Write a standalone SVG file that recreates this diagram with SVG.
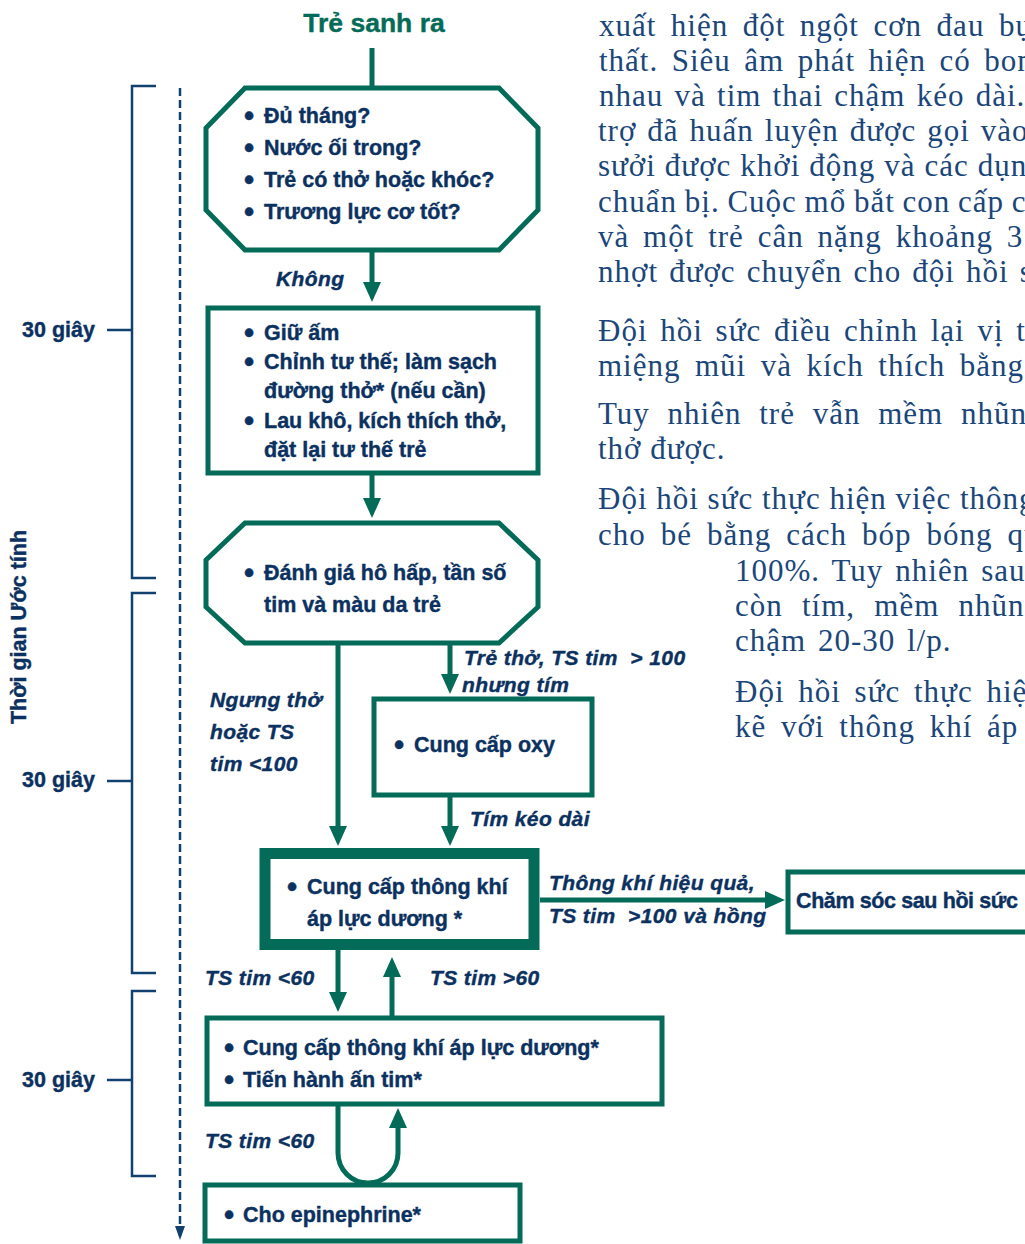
<svg xmlns="http://www.w3.org/2000/svg" width="1025" height="1244" viewBox="0 0 1025 1244">
<style>
.box{fill:#fff;stroke:#036b58;stroke-width:5}
.thick{fill:#fff;stroke:#036b58;stroke-width:11}
.con{fill:none;stroke:#036b58;stroke-width:5}
.br{fill:none;stroke:#12406f;stroke-width:2.5}
.t{font-family:"Liberation Sans",Arial,sans-serif;font-weight:bold;font-size:21.5px;fill:#0b3160;stroke:#0b3160;stroke-width:0.4}
.b{font-size:29px}
.l{font-family:"Liberation Sans",Arial,sans-serif;font-weight:bold;font-style:italic;font-size:21px;letter-spacing:0.4px;fill:#0b3160;stroke:#0b3160;stroke-width:0.4}
.p{font-family:"Liberation Serif","Times New Roman",serif;font-size:31px;letter-spacing:1px;fill:#1a467a}
.title{font-family:"Liberation Sans",Arial,sans-serif;font-weight:bold;font-size:26.5px;fill:#036b58;stroke:#036b58;stroke-width:0.4}
</style>
<defs>
<marker id="ah" markerUnits="userSpaceOnUse" markerWidth="20" markerHeight="18" refX="13" refY="9" orient="auto"><path d="M0,0 L20,9 L0,18 Z" fill="#036b58"/></marker>
<marker id="ahn" markerUnits="userSpaceOnUse" markerWidth="14" markerHeight="10" refX="10" refY="5" orient="auto"><path d="M0,0 L14,5 L0,10 Z" fill="#12406f"/></marker>
</defs>
<rect width="1025" height="1244" fill="#fff"/>

<g id="paragraph" class="p">
<text x="599" y="36" word-spacing="5.75">xuất hiện đột ngột cơn đau bụng</text>
<text x="599" y="71" word-spacing="4.75">thất. Siêu âm phát hiện có bong</text>
<text x="599" y="106" word-spacing="2.5">nhau và tim thai chậm kéo dài.</text>
<text x="598" y="141" word-spacing="2.25">trợ đã huấn luyện được gọi vào</text>
<text x="598" y="176" word-spacing="0.25">sưởi được khởi động và các dụng</text>
<text x="598" y="212" word-spacing="-1">chuẩn bị. Cuộc mổ bắt con cấp cứu</text>
<text x="598" y="247" word-spacing="5.1">và một trẻ cân nặng khoảng 3</text>
<text x="598" y="282" word-spacing="2.4">nhợt được chuyển cho đội hồi sức</text>
<text x="598" y="341" word-spacing="4">Đội hồi sức điều chỉnh lại vị trí</text>
<text x="598" y="376" word-spacing="5.75">miệng mũi và kích thích bằng</text>
<text x="598" y="424" word-spacing="9">Tuy nhiên trẻ vẫn mềm nhũn</text>
<text x="598" y="459">thở được.</text>
<text x="598" y="509" word-spacing="0">Đội hồi sức thực hiện việc thông</text>
<text x="598" y="545" word-spacing="6.25">cho bé bằng cách bóp bóng qua</text>
<text x="735" y="581" word-spacing="3.25">100%. Tuy nhiên sau</text>
<text x="735" y="616" word-spacing="10.5">còn tím, mềm nhũn</text>
<text x="735" y="651" word-spacing="3">chậm 20-30 l/p.</text>
<text x="735" y="702" word-spacing="5">Đội hồi sức thực hiện</text>
<text x="735" y="737" word-spacing="6">kẽ với thông khí áp</text>
</g>

<g id="timeline">
<path class="br" d="M156,86 H132 V578 H156 M107,330 H132"/>
<path class="br" d="M156,593 H132 V973 H156 M107,781 H132"/>
<path class="br" d="M156,991 H132 V1176 H156 M107,1080 H132"/>
<line x1="180" y1="88" x2="180" y2="1236" stroke="#12406f" stroke-width="2.5" stroke-dasharray="8,4" marker-end="url(#ahn)"/>
<text class="t" x="22" y="337">30 giây</text>
<text class="t" x="22" y="787">30 giây</text>
<text class="t" x="22" y="1087">30 giây</text>
<text class="t" transform="translate(26,627) rotate(-90)" text-anchor="middle">Thời gian Ước tính</text>
</g>

<g id="connectors">
<path class="con" d="M372,48 V88"/>
<path class="con" d="M372,250 V295" marker-end="url(#ah)"/>
<path class="con" d="M372,474 V511" marker-end="url(#ah)"/>
<path class="con" d="M338,643 V839" marker-end="url(#ah)"/>
<path class="con" d="M450,643 V687" marker-end="url(#ah)"/>
<path class="con" d="M450,796 V839" marker-end="url(#ah)"/>
<path class="con" d="M540,900 H778" marker-end="url(#ah)"/>
<path class="con" d="M338,950 V1005" marker-end="url(#ah)"/>
<path class="con" d="M392,1016 V964" marker-end="url(#ah)"/>
<path class="con" d="M338,1105 V1153 A30,30 0 0 0 398,1153 V1115" marker-end="url(#ah)"/>
<text class="l" x="276" y="286">Không</text>
<text class="l" x="464" y="665" xml:space="preserve">Trẻ thở, TS tim  &gt; 100</text>
<text class="l" x="462" y="692">nhưng tím</text>
<text class="l" x="210" y="707">Ngưng thở</text>
<text class="l" x="210" y="739">hoặc TS</text>
<text class="l" x="210" y="771">tim &lt;100</text>
<text class="l" x="470" y="826">Tím kéo dài</text>
<text class="l" x="549" y="890">Thông khí hiệu quả,</text>
<text class="l" x="549" y="923" xml:space="preserve">TS tim  &gt;100 và hồng</text>
<text class="l" x="205" y="985">TS tim &lt;60</text>
<text class="l" x="430" y="985">TS tim &gt;60</text>
<text class="l" x="205" y="1148">TS tim &lt;60</text>
</g>

<g id="title"><text class="title" x="374" y="32" text-anchor="middle">Trẻ sanh ra</text></g>

<g id="n-assess1">
<polygon class="box" points="245,88 499,88 538,128 538,210 499,250 245,250 206,210 206,128"/>
<text class="t" y="123"><tspan class="b" x="244" dy="3">•</tspan><tspan x="264" dy="-3">Đủ tháng?</tspan></text>
<text class="t" y="155"><tspan class="b" x="244" dy="3">•</tspan><tspan x="264" dy="-3">Nước ối trong?</tspan></text>
<text class="t" y="187"><tspan class="b" x="244" dy="3">•</tspan><tspan x="264" dy="-3">Trẻ có thở hoặc khóc?</tspan></text>
<text class="t" y="219"><tspan class="b" x="244" dy="3">•</tspan><tspan x="264" dy="-3">Trương lực cơ tốt?</tspan></text>
</g>

<g id="n-initial">
<rect class="box" x="208" y="308" width="330" height="165"/>
<text class="t" y="340"><tspan class="b" x="244" dy="3">•</tspan><tspan x="264" dy="-3">Giữ ấm</tspan></text>
<text class="t" y="369"><tspan class="b" x="244" dy="3">•</tspan><tspan x="264" dy="-3">Chỉnh tư thế; làm sạch</tspan></text>
<text class="t" x="264" y="398">đường thở* (nếu cần)</text>
<text class="t" y="428"><tspan class="b" x="244" dy="3">•</tspan><tspan x="264" dy="-3">Lau khô, kích thích thở,</tspan></text>
<text class="t" x="264" y="457">đặt lại tư thế trẻ</text>
</g>

<g id="n-assess2">
<polygon class="box" points="245,523 499,523 538,560 538,607 499,643 245,643 206,607 206,560"/>
<text class="t" y="580"><tspan class="b" x="244" dy="3">•</tspan><tspan x="264" dy="-3">Đánh giá hô hấp, tần số</tspan></text>
<text class="t" x="264" y="612">tim và màu da trẻ</text>
</g>

<g id="n-oxy">
<rect class="box" x="374" y="699" width="218" height="96"/>
<text class="t" y="752"><tspan class="b" x="394" dy="3">•</tspan><tspan x="414" dy="-3">Cung cấp oxy</tspan></text>
</g>

<g id="n-ppv">
<rect class="thick" x="265" y="853.5" width="269" height="91"/>
<text class="t" y="894"><tspan class="b" x="287" dy="3">•</tspan><tspan x="307" dy="-3">Cung cấp thông khí</tspan></text>
<text class="t" x="307" y="926">áp lực dương *</text>
</g>

<g id="n-post">
<rect class="box" x="788" y="872" width="245" height="60"/>
<text class="t" x="796" y="908" textLength="222" lengthAdjust="spacing">Chăm sóc sau hồi sức</text>
</g>

<g id="n-cpr">
<rect class="box" x="207" y="1018" width="455" height="86"/>
<text class="t" y="1055"><tspan class="b" x="224" dy="3">•</tspan><tspan x="243" dy="-3">Cung cấp thông khí áp lực dương*</tspan></text>
<text class="t" y="1087"><tspan class="b" x="224" dy="3">•</tspan><tspan x="243" dy="-3">Tiến hành ấn tim*</tspan></text>
</g>

<g id="n-epi">
<rect class="box" x="205" y="1185" width="315" height="56"/>
<text class="t" y="1222"><tspan class="b" x="224" dy="3">•</tspan><tspan x="243" dy="-3">Cho epinephrine*</tspan></text>
</g>
</svg>
